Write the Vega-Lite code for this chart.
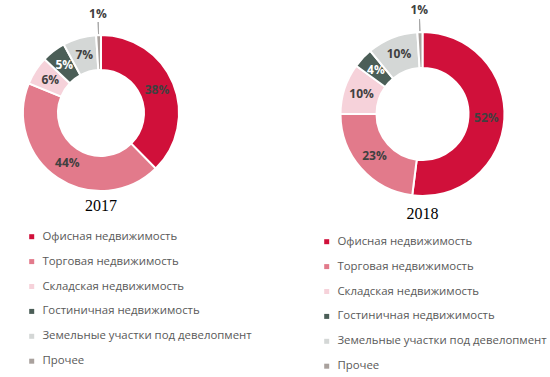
{
  "$schema": "https://vega.github.io/schema/vega-lite/v6.json",
  "padding": 0,
  "background": "white",
  "bounds": "flush",
  "spacing": 120,
  "config": {"view": {"stroke": null}},
  "resolve": {"scale": {"color": "independent", "theta": "independent"}, "legend": {"color": "independent"}},
  "datasets": {
    "d": [
      {"year": 2017, "n": 1, "cat": "Офисная недвижимость", "v": 0.38},
      {"year": 2017, "n": 2, "cat": "Торговая недвижимость", "v": 0.44},
      {"year": 2017, "n": 3, "cat": "Складская недвижимость", "v": 0.06},
      {"year": 2017, "n": 4, "cat": "Гостиничная недвижимость", "v": 0.05},
      {"year": 2017, "n": 5, "cat": "Земельные участки под девелопмент", "v": 0.07},
      {"year": 2017, "n": 6, "cat": "Прочее", "v": 0.01},
      {"year": 2018, "n": 1, "cat": "Офисная недвижимость", "v": 0.52},
      {"year": 2018, "n": 2, "cat": "Торговая недвижимость", "v": 0.23},
      {"year": 2018, "n": 3, "cat": "Складская недвижимость", "v": 0.10},
      {"year": 2018, "n": 4, "cat": "Гостиничная недвижимость", "v": 0.04},
      {"year": 2018, "n": 5, "cat": "Земельные участки под девелопмент", "v": 0.10},
      {"year": 2018, "n": 6, "cat": "Прочее", "v": 0.01}
    ]
  },
  "hconcat": [
    {
      "width": 202,
      "height": 226,
      "data": {"name": "d"},
      "transform": [{"filter": "datum.year == 2017"}],
      "title": {"text": "2017", "orient": "bottom", "offset": -26, "dy": -143, "font": "Liberation Serif", "fontSize": 16, "fontWeight": "normal", "color": "#000000", "anchor": "middle"},
      "encoding": {
        "theta": {"field": "v", "type": "quantitative", "stack": true},
        "order": {"field": "n", "type": "quantitative", "sort": "ascending"},
        "detail": {"field": "cat", "type": "nominal"}
      },
      "layer": [
        {
          "mark": {"type": "arc", "innerRadius": 43, "outerRadius": 78, "stroke": "#ffffff", "strokeWidth": 2},
          "encoding": {
            "color": {
              "field": "cat", "type": "nominal",
              "scale": {
                "domain": ["Офисная недвижимость", "Торговая недвижимость", "Складская недвижимость", "Гостиничная недвижимость", "Земельные участки под девелопмент", "Прочее"],
                "range": ["#D0103A", "#E27A8B", "#F6D2DA", "#4B5E57", "#D4D7D6", "#A9A19D"]
              },
              "legend": {"orient": "none", "legendX": 26, "legendY": 231, "title": null, "symbolType": "square", "symbolSize": 25, "symbolStrokeWidth": 0, "labelFont": "Open Sans", "labelFontSize": 11.4, "labelColor": "#595959", "rowPadding": 11.9, "padding": 0, "labelOffset": 5, "direction": "vertical", "labelLimit": 300}
            }
          }
        },
        {
          "mark": {"type": "arc", "innerRadius": 79, "outerRadius": 91, "padAngle": 1, "fill": null, "stroke": "#A6A6A6", "strokeWidth": 1},
          "encoding": {
            "opacity": {"condition": {"test": "datum.cat == 'Прочее'", "value": 1}, "value": 0}
          }
        },
        {
          "mark": {"type": "text", "radius": 60.5, "font": "Open Sans", "fontSize": 12, "fontWeight": "bold", "align": "center", "baseline": "middle"},
          "encoding": {
            "text": {"condition": {"test": "datum.cat == 'Прочее'", "value": ""}, "field": "v", "type": "quantitative", "format": ".0%"},
            "color": {"condition": {"test": "datum.cat == 'Гостиничная недвижимость'", "value": "#ffffff"}, "value": "#404040"}
          }
        },
        {
          "mark": {"type": "text", "radius": 99, "font": "Open Sans", "fontSize": 12, "fontWeight": "bold", "align": "center", "baseline": "middle", "color": "#404040"},
          "encoding": {
            "text": {"condition": {"test": "datum.cat != 'Прочее'", "value": ""}, "field": "v", "type": "quantitative", "format": ".0%"}
          }
        }
      ]
    },
    {
      "width": 201,
      "height": 228,
      "data": {"name": "d"},
      "transform": [{"filter": "datum.year == 2018"}],
      "title": {"text": "2018", "orient": "bottom", "offset": -21, "dy": -145, "font": "Liberation Serif", "fontSize": 16, "fontWeight": "normal", "color": "#000000", "anchor": "middle"},
      "encoding": {
        "theta": {"field": "v", "type": "quantitative", "stack": true},
        "order": {"field": "n", "type": "quantitative", "sort": "ascending"},
        "detail": {"field": "cat", "type": "nominal"}
      },
      "layer": [
        {
          "mark": {"type": "arc", "innerRadius": 46, "outerRadius": 82, "stroke": "#ffffff", "strokeWidth": 2},
          "encoding": {
            "color": {
              "field": "cat", "type": "nominal",
              "scale": {
                "domain": ["Офисная недвижимость", "Торговая недвижимость", "Складская недвижимость", "Гостиничная недвижимость", "Земельные участки под девелопмент", "Прочее"],
                "range": ["#D0103A", "#E27A8B", "#F6D2DA", "#4B5E57", "#D4D7D6", "#A9A19D"]
              },
              "legend": {"orient": "none", "legendX": -1, "legendY": 236, "title": null, "symbolType": "square", "symbolSize": 25, "symbolStrokeWidth": 0, "labelFont": "Open Sans", "labelFontSize": 11.4, "labelColor": "#595959", "rowPadding": 11.9, "padding": 0, "labelOffset": 5, "direction": "vertical", "labelLimit": 300}
            }
          }
        },
        {
          "mark": {"type": "arc", "innerRadius": 83, "outerRadius": 95, "padAngle": 1, "fill": null, "stroke": "#A6A6A6", "strokeWidth": 1},
          "encoding": {
            "opacity": {"condition": {"test": "datum.cat == 'Прочее'", "value": 1}, "value": 0}
          }
        },
        {
          "mark": {"type": "text", "radius": 64, "font": "Open Sans", "fontSize": 12, "fontWeight": "bold", "align": "center", "baseline": "middle"},
          "encoding": {
            "text": {"condition": {"test": "datum.cat == 'Прочее'", "value": ""}, "field": "v", "type": "quantitative", "format": ".0%"},
            "color": {"condition": {"test": "datum.cat == 'Гостиничная недвижимость'", "value": "#ffffff"}, "value": "#404040"}
          }
        },
        {
          "mark": {"type": "text", "radius": 104, "font": "Open Sans", "fontSize": 12, "fontWeight": "bold", "align": "center", "baseline": "middle", "color": "#404040"},
          "encoding": {
            "text": {"condition": {"test": "datum.cat != 'Прочее'", "value": ""}, "field": "v", "type": "quantitative", "format": ".0%"}
          }
        }
      ]
    }
  ]
}
